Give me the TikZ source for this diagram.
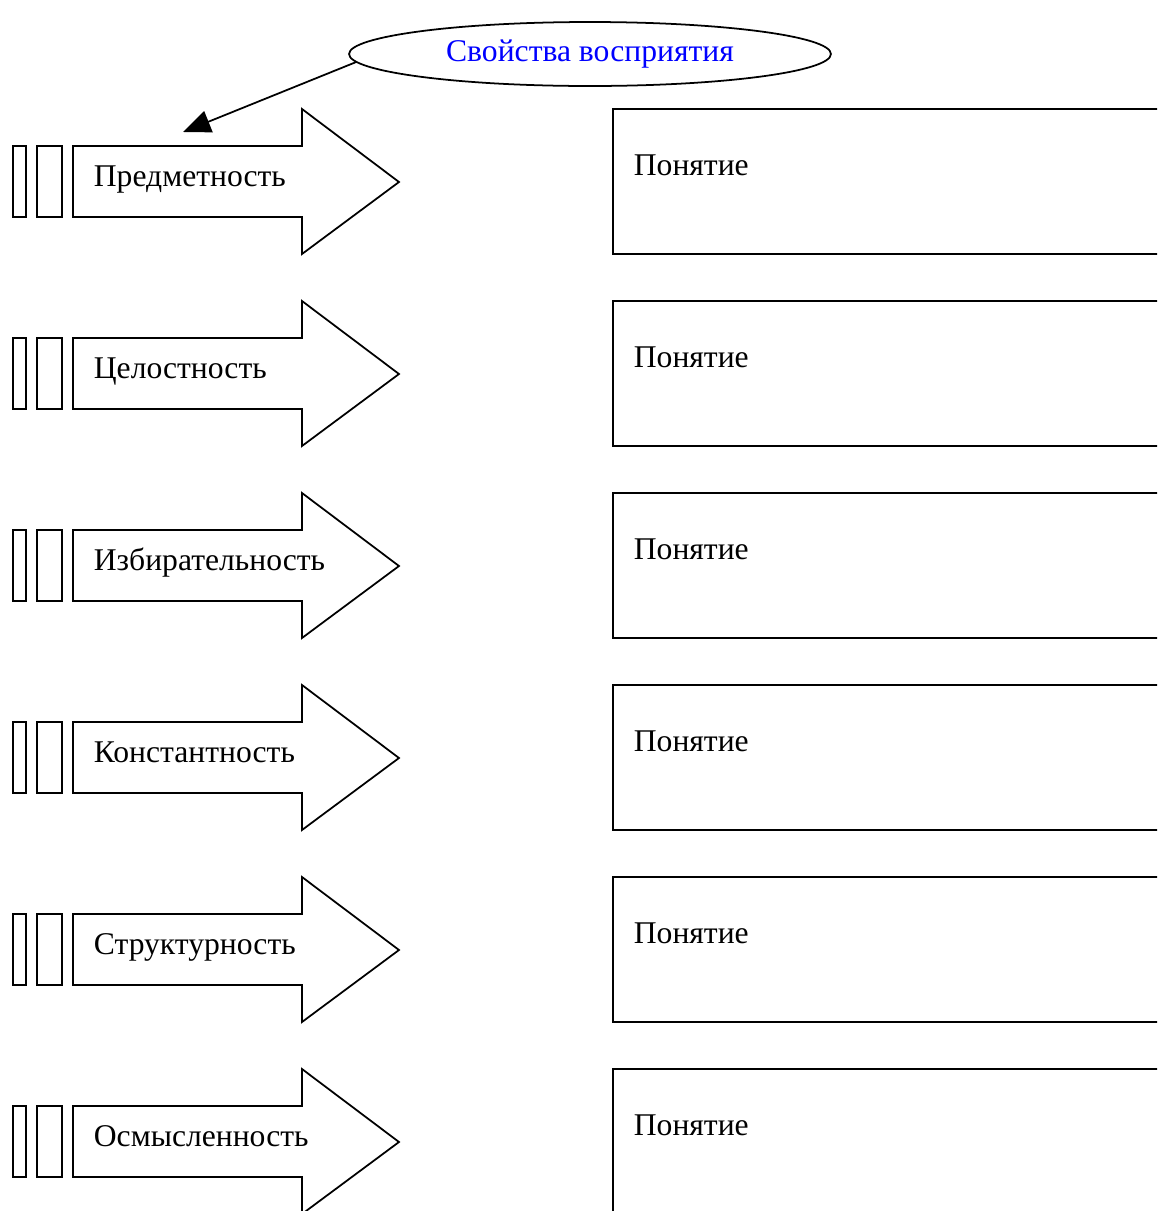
\documentclass[tikz,border=0pt]{standalone}
\usepackage{fontspec}
\setmainfont{Liberation Serif}
\usetikzlibrary{shapes.geometric,arrows.meta}

\begin{document}
\begin{tikzpicture}[x=0.02cm, y=-0.02cm, line width=1pt,
    every node/.style={font=\fontsize{18}{22}\selectfont}]
            \useasboundingbox (0,0) rectangle (1157,1211);
            \clip (0,0) rectangle (1157,1211);
            \node[draw, ellipse, minimum width=9.64cm, minimum height=1.28cm, inner sep=0pt, text=blue] (props) at (590, 54) {Свойства восприятия};
            \coordinate (tip) at (183, 132);

            \foreach \name [count=\i] in {Предметность, Целостность, Избирательность, Константность, Структурность, Осмысленность} {
                \pgfmathsetmacro{\c}{182 + 192*(\i-1)}
                \draw (13, \c-36) rectangle (26, \c+35);
                \draw (37, \c-36) rectangle (62, \c+35);
                \draw (73, \c-36) -- (302, \c-36) -- (302, \c-73) -- (399, \c) -- (302, \c+72) -- (302, \c+35) -- (73, \c+35) -- cycle;
                \node[anchor=base west, inner sep=0pt] (prop\i) at (93, \c+4) {\name};
                \draw (613, \c-73) rectangle (1180, \c+72);
                \node[anchor=base west, inner sep=0pt] (concept\i) at (633, \c-7) {Понятие};
            }

            \draw[-{Triangle[length=0.55cm, width=0.45cm]}] (props.182) -- (tip);
        \end{tikzpicture}
\end{document}
